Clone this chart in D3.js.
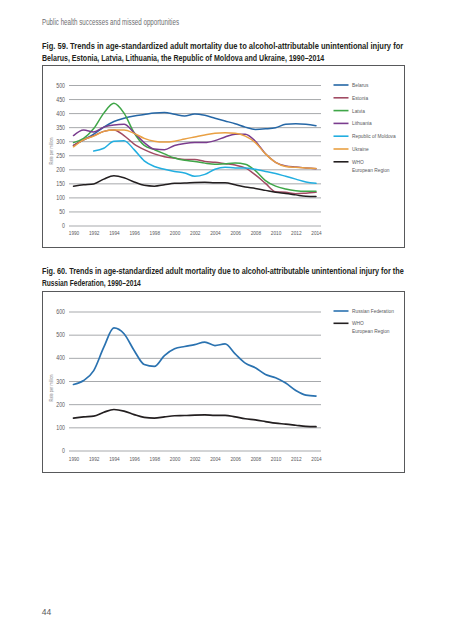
<!DOCTYPE html>
<html><head><meta charset="utf-8">
<script src="https://cdn.jsdelivr.net/npm/d3@7"></script>
<style>
html,body{margin:0;padding:0;background:#fff;}
svg{display:block;}
</style></head>
<body>
<svg id="c" width="453" height="640"></svg>
<script>
const years = d3.range(1990, 2015);
const yearTicks = d3.range(1990, 2015, 2);
const yTicks1 = [0,50,100,150,200,250,300,350,400,450,500];
const yTicks2 = [0,100,200,300,400,500,600];

const belarus   = [285,305,325,350,370,382,390,395,400,402,396,390,397,392,382,372,362,350,342,344,348,360,362,360,355];
const estonia   = [285,305,320,335,340,320,290,270,255,245,240,235,235,228,225,220,215,205,180,150,120,118,113,115,118];
const latvia    = [295,310,345,400,435,400,330,285,270,255,240,232,228,222,218,220,222,218,195,160,140,130,124,122,122];
const lithuania = [320,340,333,350,358,360,330,295,272,270,285,292,295,295,302,315,325,325,300,255,225,212,208,205,202];
const moldova   = [null,null,265,275,300,302,270,230,210,200,192,187,175,182,200,207,205,205,200,192,185,175,165,155,150];
const ukraine   = [280,305,318,335,340,340,328,310,300,297,300,308,315,322,328,330,328,318,295,255,225,210,207,205,203];
const who       = [140,145,148,165,177,170,155,143,140,145,150,151,153,154,152,152,145,137,132,125,118,114,109,104,103];
const russia    = [285,302,345,446,529,504,432,371,363,410,439,449,457,468,453,460,417,377,357,328,314,291,259,239,235];

const series1Names = ["Belarus","Estonia","Latvia","Lithuania","Republic of Moldova","Ukraine","WHO|European Region"];
const series1Values = [belarus, estonia, latvia, lithuania, moldova, ukraine, who];
const series1Colors = ["#2567a6","#a14b63","#3fa648","#7a3c8e","#22aee0","#e9a043","#231f20"];
const series2Names = ["Russian Federation","WHO|European Region"];
const series2Values = [russia, who];
const series2Colors = ["#2a72b0","#231f20"];

const svg = d3.select("#c");
const FONT = "'Liberation Sans','Arial',sans-serif";
const SX = 0.78;

// horizontally condense a text element around its anchor point
function condense(sel, sx){
  sel.each(function(){
    const t = d3.select(this);
    const x = +(t.attr("x")||0), y = +(t.attr("y")||0);
    t.attr("transform", `translate(${x},${y}) scale(${sx},1) translate(${-x},${-y})`);
  });
}
function fitWidth(sel, w){
  sel.each(function(){
    const nat = this.getComputedTextLength();
    condense(d3.select(this), w/nat);
  });
}

// header
const hdr = svg.append("text").attr("x",42).attr("y",25).attr("font-family",FONT)
  .attr("font-size",8.2).attr("fill","#6d6e71").text("Public health successes and missed opportunities");
fitWidth(hdr,137);

function title(lines, y0){
  lines.forEach((l,i)=>{
    const t = svg.append("text").attr("x",42).attr("y",y0+i*11.2)
      .attr("font-family",FONT).attr("font-weight","bold").attr("font-size",9)
      .attr("fill","#231f20").text(l.t);
    fitWidth(t,l.w);
  });
}
title([{t:"Fig. 59. Trends in age-standardized adult mortality due to alcohol-attributable unintentional injury for",w:362},
       {t:"Belarus, Estonia, Latvia, Lithuania, the Republic of Moldova and Ukraine, 1990–2014",w:283}], 49.5);
title([{t:"Fig. 60. Trends in age-standardized adult mortality due to alcohol-attributable unintentional injury for the",w:362},
       {t:"Russian Federation, 1990–2014",w:99}], 274.5);

function chart(cfg){
  const g = svg.append("g");
  g.append("rect").attr("x",cfg.box[0]).attr("y",cfg.box[1]).attr("width",cfg.box[2]-cfg.box[0])
    .attr("height",cfg.box[3]-cfg.box[1]).attr("fill","none").attr("stroke","#58595b").attr("stroke-width",1);
  const x = d3.scaleLinear().domain([1990,2014]).range([73.5,316]);
  const y = d3.scaleLinear().domain(cfg.ydom).range(cfg.yrange);
  const ya = g.append("g").attr("transform","translate(69,0)")
    .call(d3.axisLeft(y).tickValues(cfg.yticks).tickSize(-252).tickPadding(4).tickFormat(d3.format("d")));
  ya.select(".domain").remove();
  ya.selectAll("line").attr("stroke","#a7a9ac").attr("stroke-width",1);
  ya.selectAll("text").attr("font-family",FONT).attr("font-size",6.4).attr("fill","#58595b");
  condense(ya.selectAll("text"), 0.82);
  const xa = g.append("g").attr("transform",`translate(0,${cfg.yrange[0]})`)
    .call(d3.axisBottom(x).tickValues(yearTicks).tickSize(0).tickPadding(cfg.xpad).tickFormat(d3.format("d")));
  xa.select(".domain").remove();
  xa.selectAll("text").attr("font-family",FONT).attr("font-size",6.2).attr("fill","#58595b");
  condense(xa.selectAll("text"), 0.76);
  g.append("text").attr("transform",`translate(52.5,${cfg.ytitleY}) rotate(-90) scale(0.78,1)`).attr("text-anchor","middle")
    .attr("font-family",FONT).attr("font-size",5).attr("fill","#808285").text("Rate per million");
  const line = d3.line().defined(d=>d[1]!=null).x(d=>x(d[0])).y(d=>y(d[1])).curve(d3.curveMonotoneX);
  cfg.values.forEach((vals,i)=>{
    g.append("path").datum(years.map((yr,j)=>[yr,vals[j]])).attr("d",line)
      .attr("fill","none").attr("stroke",cfg.colors[i]).attr("stroke-width",cfg.lw)
      .attr("stroke-linejoin","round").attr("stroke-linecap","round");
  });
  // legend
  let ly = cfg.legY;
  cfg.names.forEach((n,i)=>{
    g.append("line").attr("x1",333.5).attr("x2",348.5).attr("y1",ly).attr("y2",ly)
      .attr("stroke",cfg.colors[i]).attr("stroke-width",1.6);
    const parts = n.split("|");
    parts.forEach((p,k)=>{
      const t = g.append("text").attr("x",352).attr("y",ly+2+k*7.8).attr("font-family",FONT)
        .attr("font-size",6.2).attr("fill","#58595b").text(p);
      condense(t, SX);
    });
    ly += cfg.legStep;
  });
}

chart({box:[42.5,65.5,404.5,247.5], ydom:[0,500], yrange:[225.5,85], yticks:yTicks1, xpad:5,
  ytitleY:151, values:series1Values, colors:series1Colors, names:series1Names, lw:1.5,
  legY:85, legStep:12.8});
chart({box:[42.5,291.5,404.5,472.5], ydom:[0,600], yrange:[450.5,311.5], yticks:yTicks2, xpad:6.5,
  ytitleY:388, values:series2Values, colors:series2Colors, names:series2Names, lw:1.7,
  legY:311, legStep:12.3});

svg.append("text").attr("x",46.5).attr("y",615).attr("text-anchor","middle").attr("font-family",FONT)
  .attr("font-size",8.5).attr("fill","#58595b").text("44");
</script>
</body></html>
